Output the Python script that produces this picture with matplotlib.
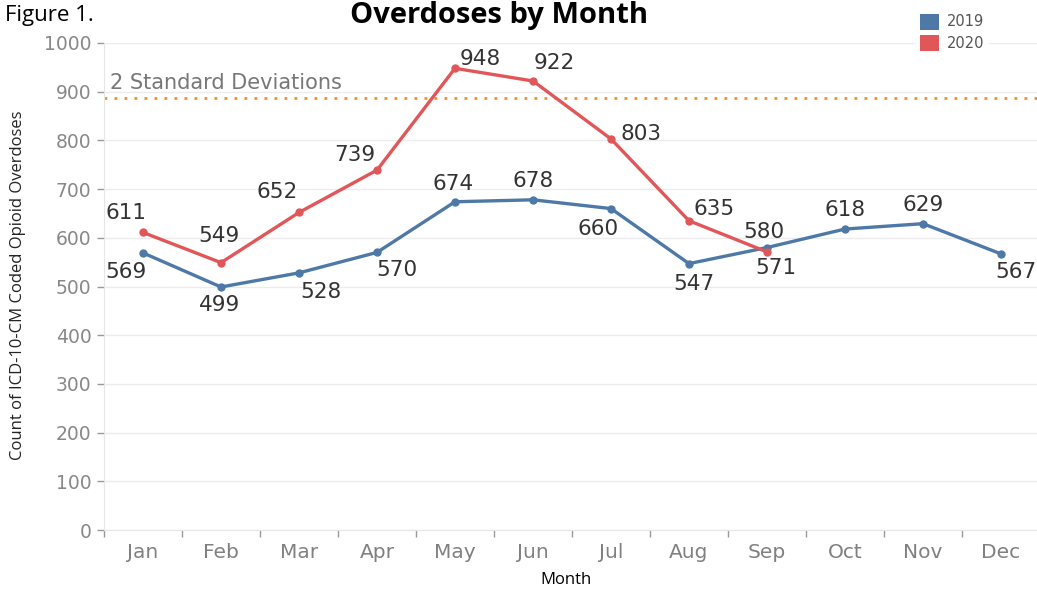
import matplotlib
matplotlib.use('Agg')
import matplotlib.pyplot as plt
from matplotlib.patches import Patch

months = ['Jan', 'Feb', 'Mar', 'Apr', 'May', 'Jun', 'Jul', 'Aug', 'Sep', 'Oct', 'Nov', 'Dec']
counts_2019 = [569, 499, 528, 570, 674, 678, 660, 547, 580, 618, 629, 567]
counts_2020 = [611, 549, 652, 739, 948, 922, 803, 635, 571]
two_sd = 888
yticks = [0, 100, 200, 300, 400, 500, 600, 700, 800, 900, 1000]

C19 = '#4e79a7'
C20 = '#e15759'

# label offsets in pixels (dx, dy), dy positive = up
off19 = [(-17, -19), (-1, -18), (22, -19), (20, -18), (-2, 18), (0, 19),
         (-13, -20), (5, -20), (-3, 16), (0, 19), (0, 19), (15, -18)]
off20 = [(-17, 19), (-2, 27), (-22, 20), (-22, 15), (25, 9), (21, 18),
         (30, 5), (25, 12), (9, -16)]

W, H = 1037, 595
fig = plt.figure(figsize=(W / 100, H / 100), dpi=100)
ax = fig.add_axes([104 / W, 65 / H, 936 / W, 487 / H])

x19 = list(range(len(counts_2019)))
x20 = list(range(len(counts_2020)))

ax.axhline(two_sd, color='#f28e2b', lw=2, ls=(0, (1, 2.6)), zorder=2)
ax.text(-0.42, two_sd + 30, '2 Standard Deviations', fontsize=15,
        color='#777777', va='center', ha='left')

ax.plot(x19, counts_2019, color=C19, lw=2.4, marker='o', ms=5, zorder=4)
ax.plot(x20, counts_2020, color=C20, lw=2.4, marker='o', ms=5, zorder=5)

for xs, vals, offs in [(x19, counts_2019, off19), (x20, counts_2020, off20)]:
    for x, v, (dx, dy) in zip(xs, vals, offs):
        ax.annotate(str(v), (x, v), xytext=(dx, dy), textcoords='offset pixels',
                    ha='center', va='center', fontsize=15.5, color='#333333', zorder=6)

ax.set_xlim(-0.5, 11.5)
ax.set_ylim(0, 1000)
ax.set_yticks(yticks)
ax.set_yticklabels([str(t) for t in yticks])
ax.set_xticks(x19)
ax.set_xticklabels(months)
ax.set_xticks([i - 0.5 for i in range(13)], minor=True)
ax.tick_params(axis='x', which='major', length=0, pad=9, labelsize=14.5, labelcolor='#808080')
ax.tick_params(axis='x', which='minor', length=5, color='#999999', width=1)
ax.tick_params(axis='y', length=5, color='#999999', width=1, pad=4,
               labelsize=13.5, labelcolor='#888888')
ax.grid(axis='y', color='#ececec', lw=1)
ax.set_axisbelow(True)
for s in ['top', 'right']:
    ax.spines[s].set_visible(False)
for s in ['left', 'bottom']:
    ax.spines[s].set_color('#e6e6e6')

fig.text(566 / W, 1 - 580 / H, 'Month', ha='center', va='center', fontsize=12,
         family='Open Sans', color='black')
fig.text(18 / W, 1 - 285 / H, 'Count of ICD-10-CM Coded Opioid Overdoses', rotation=90,
         ha='center', va='center', fontsize=12, family='Open Sans', color='#222222')
fig.text(5 / W, 1 - 15 / H, 'Figure 1.', ha='left', va='center', fontsize=16,
         family='Open Sans', color='black')
fig.text(499 / W, 1 - 1 / H, 'Overdoses by Month', ha='center', va='top', fontsize=21,
         family='Open Sans', fontweight='bold', color='black')

handles = [Patch(facecolor=C19, edgecolor='none', label='2019'),
           Patch(facecolor=C20, edgecolor='none', label='2020')]
leg = fig.legend(handles=handles, loc='upper left', bbox_to_anchor=(908 / W, 1 - 2 / H),
                 frameon=True, fontsize=10.5, handlelength=1.3, handleheight=1.3,
                 handletextpad=0.6, labelspacing=0.35, borderpad=0.3)
leg.get_frame().set_facecolor('white')
leg.get_frame().set_edgecolor('none')
for t in leg.get_texts():
    t.set_color('#555555')

fig.savefig('out.png', dpi=100, facecolor='white')
